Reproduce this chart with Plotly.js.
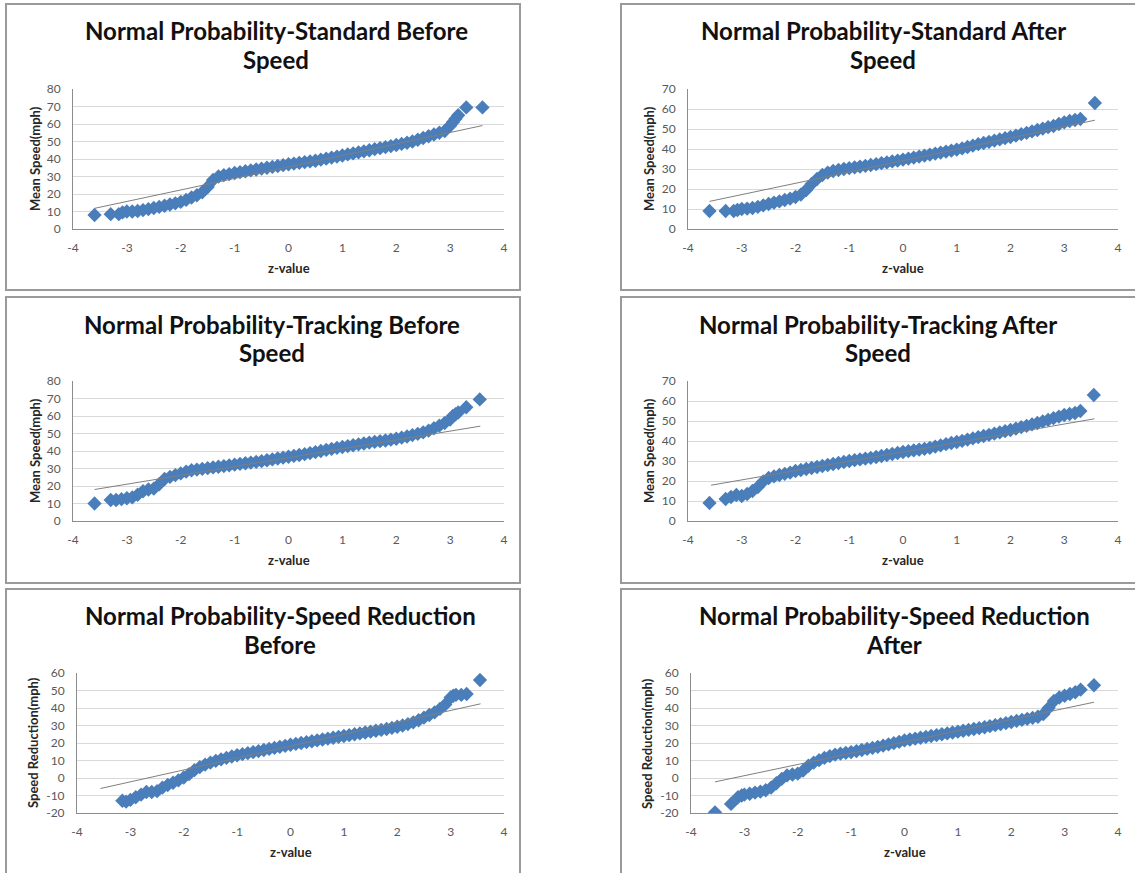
<!DOCTYPE html>
<html>
<head>
<meta charset="utf-8">
<script src="https://cdn.plot.ly/plotly-3.0.1.min.js"></script>
<style>
html,body{margin:0;padding:0;background:#fff;}
#chart{width:1135px;height:873px;}
</style>
</head>
<body>
<div id="chart"></div>
<script>
// ---------------- DATA ----------------
const zMid = [-3.0,-2.9,-2.8,-2.7,-2.6,-2.5,-2.4,-2.3,-2.2,-2.1,
  -2.0,-1.9,-1.8,-1.7,-1.6,-1.5,-1.4,-1.3,-1.2,-1.1,
  -1.0,-0.9,-0.8,-0.7,-0.6,-0.5,-0.4,-0.3,-0.2,-0.1,
  0,0.1,0.2,0.3,0.4,0.5,0.6,0.7,0.8,0.9,
  1.0,1.1,1.2,1.3,1.4,1.5,1.6,1.7,1.8,1.9,
  2.0,2.1,2.2,2.3,2.4,2.5,2.6,2.7,2.8,2.9,
  3.0];

// Standard Before
const stdBeforeLowZ = [-3.6,-3.3,-3.15,-3.08];
const stdBeforeLowY = [8,8.5,8.5,9.5];
const stdBeforeMidY = [10,10,10.3,10.8,11.4,12,12.6,13.3,14,14.7,
  15.5,16.6,18,19.3,21,24,28,30,30.8,31.4,
  32,32.5,33,33.5,34,34.5,35,35.5,36,36.5,
  37,37.4,37.8,38.2,38.6,39,39.6,40.2,40.8,41.4,
  42,42.6,43.2,43.8,44.4,45,45.6,46.2,46.8,47.4,
  48,48.6,49.3,50,51,52,53,54,55,56,
  59];
const stdBeforeHighZ = [3.05,3.1,3.15,3.3,3.6];
const stdBeforeHighY = [61,63,65,69.5,69.5];
const stdBeforeTrendZ = [-3.6,3.6];
const stdBeforeTrendY = [11.8,59.1];

// Standard After
const stdAfterLowZ = [-3.6,-3.3,-3.15,-3.08];
const stdAfterLowY = [9,9,9,9.5];
const stdAfterMidY = [10,10.2,10.5,11.1,11.8,12.5,13.2,13.8,14.5,15.2,
  16,17.2,19.5,22.5,25,27,28.2,29,29.5,30,
  30.4,30.8,31.2,31.6,32,32.4,32.9,33.3,33.8,34.2,
  34.7,35.2,35.7,36.2,36.7,37.2,37.7,38.2,38.7,39.2,
  39.7,40.3,41,41.7,42.4,43,43.6,44.2,44.8,45.4,
  46,46.7,47.4,48.1,48.8,49.5,50.2,50.9,51.5,52.5,
  53.3];
const stdAfterHighZ = [3.1,3.2,3.3,3.57];
const stdAfterHighY = [54,54.5,55,63];
const stdAfterTrendZ = [-3.6,3.57];
const stdAfterTrendY = [13.8,54.4];

// Tracking Before
const trkBeforeLowZ = [-3.6,-3.3,-3.2,-3.1];
const trkBeforeLowY = [10,12,12,12.5];
const trkBeforeMidY = [13,13.5,15,17,18,18.5,21,24,25.2,26.2,
  27.2,28.2,29,29.4,29.8,30.2,30.6,31,31.4,31.8,
  32.2,32.6,33,33.4,33.8,34.2,34.7,35.2,35.7,36.2,
  36.7,37.2,37.7,38.2,38.8,39.4,40,40.6,41.2,41.8,
  42.3,42.8,43.3,43.8,44.3,44.8,45.2,45.6,46,46.5,
  47,47.6,48.3,49.1,49.8,50.6,51.6,53,54.5,56,
  58];
const trkBeforeHighZ = [3.05,3.1,3.15,3.3,3.55];
const trkBeforeHighY = [60,61,62,65,69.5];
const trkBeforeTrendZ = [-3.6,3.56];
const trkBeforeTrendY = [18,54.2];

// Tracking After
const trkAfterLowZ = [-3.6,-3.3,-3.2,-3.1];
const trkAfterLowY = [9,11,12,13];
const trkAfterMidY = [12.5,13.5,15,17,19.8,21.5,22.3,23,23.6,24.2,
  25,25.5,26,26.5,27,27.5,28,28.5,29,29.5,
  30,30.4,30.8,31.2,31.6,32,32.5,33,33.5,34,
  34.5,34.9,35.3,35.7,36.1,36.6,37.2,37.8,38.4,39,
  39.5,40.1,40.7,41.3,41.9,42.5,43.1,43.7,44.3,44.9,
  45.5,46.2,46.9,47.6,48.3,49,49.8,50.6,51.4,52.2,
  53];
const trkAfterHighZ = [3.1,3.2,3.3,3.55];
const trkAfterHighY = [53.5,54,55,63];
const trkAfterTrendZ = [-3.57,3.56];
const trkAfterTrendY = [17.9,51.1];

// Speed Reduction Before
const redBeforeLowZ = [-3.15,-3.08];
const redBeforeLowY = [-13,-13.5];
const redBeforeMidY = [-12.5,-11,-9.5,-8,-8,-7.5,-5.5,-4,-2.7,-1.3,
  0.3,2.2,4.5,6.2,7.6,8.8,9.8,10.7,11.5,12.3,
  13,13.6,14.2,14.8,15.4,16,16.6,17.2,17.8,18.4,
  19,19.5,20,20.5,21,21.5,22,22.5,23,23.5,
  24,24.5,25,25.5,26,26.5,27,27.5,28,28.6,
  29.3,30,30.8,31.8,33,34.5,36,37.5,39.5,42,
  46];
const redBeforeHighZ = [3.05,3.1,3.2,3.3,3.55];
const redBeforeHighY = [47,47.5,47.5,48,56];
const redBeforeTrendZ = [-3.56,3.56];
const redBeforeTrendY = [-6,42.4];

// Speed Reduction After
const redAfterLowZ = [-3.55,-3.25,-3.12,-3.05];
const redAfterLowY = [-19.6,-14.8,-11,-10];
const redAfterMidY = [-9.5,-9,-8.3,-7.8,-7,-5.5,-3,-0.5,1.5,2,
  2.5,4.2,7,8.8,10.2,11.5,12.5,13.3,13.9,14.4,
  14.8,15.4,16,16.6,17.2,17.8,18.5,19.2,19.9,20.7,
  21.5,22,22.5,23,23.5,24,24.5,25,25.5,26,
  26.5,27,27.5,28,28.5,29,29.6,30.2,30.8,31.4,
  32,32.6,33.2,33.8,34.4,35,36.5,40,44,46,
  47];
const redAfterHighZ = [3.1,3.2,3.3,3.55];
const redAfterHighY = [48,49,50.5,53];
const redAfterTrendZ = [-3.55,3.55];
const redAfterTrendY = [-2.2,43.3];

const titleLine1 = ["Normal Probability-Standard Before","Normal Probability-Standard After",
  "Normal Probability-Tracking Before","Normal Probability-Tracking After",
  "Normal Probability-Speed Reduction","Normal Probability-Speed Reduction"];
const titleLine2 = ["Speed","Speed","Speed","Speed","Before","After"];
const yTitles = ["Mean Speed(mph)","Mean Speed(mph)","Mean Speed(mph)","Mean Speed(mph)",
  "Speed Reduction(mph)","Speed Reduction(mph)"];
const xTitle = "z-value";
const xTickVals = [-4,-3,-2,-1,0,1,2,3,4];
const xTickText = ["-4","-3","-2","-1","0","1","2","3","4"];
const yTickVals80 = [0,10,20,30,40,50,60,70,80];
const yTickText80 = ["0","10","20","30","40","50","60","70","80"];
const yTickVals70 = [0,10,20,30,40,50,60,70];
const yTickText70 = ["0","10","20","30","40","50","60","70"];
const yTickValsRed = [-20,-10,0,10,20,30,40,50,60];
const yTickTextRed = ["-20","-10","0","10","20","30","40","50","60"];
const yTicks = [[yTickVals80,yTickText80],[yTickVals70,yTickText70],[yTickVals80,yTickText80],
  [yTickVals70,yTickText70],[yTickValsRed,yTickTextRed],[yTickValsRed,yTickTextRed]];
const yRanges = [[0,80],[0,70],[0,80],[0,70],[-20,60],[-20,60]];
const xRange = [-4,4];

const series = [
  [stdBeforeLowZ,stdBeforeLowY,stdBeforeMidY,stdBeforeHighZ,stdBeforeHighY,stdBeforeTrendZ,stdBeforeTrendY],
  [stdAfterLowZ,stdAfterLowY,stdAfterMidY,stdAfterHighZ,stdAfterHighY,stdAfterTrendZ,stdAfterTrendY],
  [trkBeforeLowZ,trkBeforeLowY,trkBeforeMidY,trkBeforeHighZ,trkBeforeHighY,trkBeforeTrendZ,trkBeforeTrendY],
  [trkAfterLowZ,trkAfterLowY,trkAfterMidY,trkAfterHighZ,trkAfterHighY,trkAfterTrendZ,trkAfterTrendY],
  [redBeforeLowZ,redBeforeLowY,redBeforeMidY,redBeforeHighZ,redBeforeHighY,redBeforeTrendZ,redBeforeTrendY],
  [redAfterLowZ,redAfterLowY,redAfterMidY,redAfterHighZ,redAfterHighY,redAfterTrendZ,redAfterTrendY]
];

// ---------------- LAYOUT (pixel geometry) ----------------
const W = 1135, H = 873;
const geo = [
  {xl:73, xr:504, yt:89, yb:229, box:[6,4,520,290], tx:276, ty:[31,60], ytx:35, xty:268},
  {xl:688,xr:1118,yt:89, yb:229, box:[621,4,1145,290], tx:883, ty:[31,60], ytx:649, xty:268},
  {xl:73, xr:504, yt:381,yb:521, box:[6,297,520,583], tx:272, ty:[324,352], ytx:35, xty:560},
  {xl:688,xr:1118,yt:381,yb:521, box:[621,297,1145,583], tx:878, ty:[324,352], ytx:649, xty:560},
  {xl:77, xr:504, yt:673,yb:813, box:[6,589,520,890], tx:280, ty:[615,644], ytx:33, xty:852},
  {xl:691,xr:1118,yt:673,yb:813, box:[621,589,1145,890], tx:894, ty:[615,644], ytx:647, xty:852}
];
const px = v => v / W;
const py = v => 1 - v / H;

const FONT = "Lato, 'Open Sans', sans-serif";
const MARK = '#4a7ebb';
const traces = [];
const layout = {
  width: W, height: H,
  margin: {l:0, r:0, t:0, b:0},
  paper_bgcolor: '#ffffff', plot_bgcolor: '#ffffff',
  showlegend: false,
  shapes: [], annotations: []
};

series.forEach((s, i) => {
  const g = geo[i];
  const n = i + 1;
  const xa = n === 1 ? 'x' : 'x' + n;
  const ya = n === 1 ? 'y' : 'y' + n;
  const xs = s[0].concat(zMid, s[3]);
  const ys = s[1].concat(s[2], s[4]);
  traces.push({
    type: 'scatter', mode: 'markers', x: xs, y: ys, xaxis: xa, yaxis: ya,
    marker: {symbol: 'diamond', size: 11, color: MARK, line: {width: 0}},
    hoverinfo: 'x+y'
  });
  traces.push({
    type: 'scatter', mode: 'lines', x: s[5], y: s[6], xaxis: xa, yaxis: ya,
    line: {color: '#7f7f7f', width: 1}, hoverinfo: 'skip'
  });
  const xk = n === 1 ? 'xaxis' : 'xaxis' + n;
  const yk = n === 1 ? 'yaxis' : 'yaxis' + n;
  layout[xk] = {
    domain: [px(g.xl), px(g.xr)], anchor: ya, range: xRange,
    tickmode: 'array', tickvals: xTickVals, ticktext: xTickText,
    showgrid: false, zeroline: false, showline: true, linecolor: '#8c8c8c', linewidth: 1,
    ticks: '', ticklabelstandoff: 8,
    tickfont: {family: FONT, size: 12, color: '#595959'}, fixedrange: true
  };
  layout[yk] = {
    domain: [py(g.yb), py(g.yt)], anchor: xa, range: yRanges[i],
    tickmode: 'array', tickvals: yTicks[i][0], ticktext: yTicks[i][1],
    showgrid: true, gridcolor: '#d9d9d9', gridwidth: 1, zeroline: false,
    showline: true, linecolor: '#8c8c8c', linewidth: 1,
    ticks: '', ticklabelstandoff: 9,
    tickfont: {family: FONT, size: 12, color: '#595959'}, fixedrange: true
  };
  layout.shapes.push({
    type: 'rect', xref: 'paper', yref: 'paper',
    x0: px(g.box[0]), x1: px(g.box[2]), y0: py(g.box[3]), y1: py(g.box[1]),
    line: {color: '#9a9a9a', width: 2}, fillcolor: 'rgba(0,0,0,0)', layer: 'below'
  });
  layout.annotations.push({
    xref: 'paper', yref: 'paper', x: px(g.tx), y: py(g.ty[0]), text: titleLine1[i],
    showarrow: false, xanchor: 'center', yanchor: 'middle',
    font: {family: FONT, size: 24, color: '#111111', weight: 'bold'}
  });
  layout.annotations.push({
    xref: 'paper', yref: 'paper', x: px(g.tx), y: py(g.ty[1]), text: titleLine2[i],
    showarrow: false, xanchor: 'center', yanchor: 'middle',
    font: {family: FONT, size: 24, color: '#111111', weight: 'bold'}
  });
  layout.annotations.push({
    xref: 'paper', yref: 'paper', x: px(g.ytx), y: py((g.yt + g.yb) / 2), text: yTitles[i],
    showarrow: false, textangle: -90, xanchor: 'center', yanchor: 'middle',
    font: {family: FONT, size: 13, color: '#262626', weight: 'bold'}
  });
  layout.annotations.push({
    xref: 'paper', yref: 'paper', x: px((g.xl + g.xr) / 2), y: py(g.xty), text: xTitle,
    showarrow: false, xanchor: 'center', yanchor: 'middle',
    font: {family: FONT, size: 13, color: '#262626', weight: 'bold'}
  });
});

Plotly.newPlot('chart', traces, layout, {staticPlot: true, displayModeBar: false});
</script>
</body>
</html>
